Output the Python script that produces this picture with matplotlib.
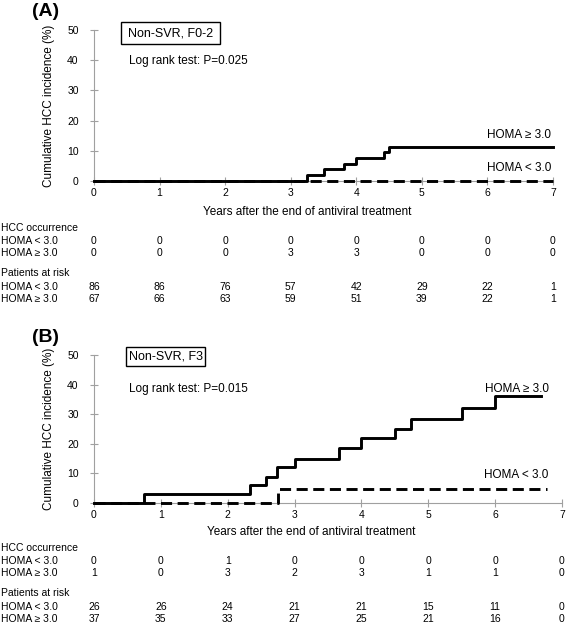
import matplotlib
matplotlib.use('Agg')
import matplotlib.pyplot as plt
from matplotlib.patches import Rectangle
from matplotlib.transforms import blended_transform_factory

plt.rcParams['font.family'] = ['Liberation Sans', 'DejaVu Sans']

# panel A: Non-SVR, F0-2
a_hi_t = [0, 3.25, 3.51, 3.82, 4.0, 4.42, 4.5, 7.0]
a_hi_y = [0, 2.0, 3.9, 5.75, 7.6, 9.5, 11.4, 11.4]
a_lo_t = [0, 7.0]
a_lo_y = [0, 0]

# panel B: Non-SVR, F3
b_hi_t = [0, 0.75, 2.33, 2.58, 2.73, 3.0, 3.67, 4.0, 4.5, 4.74, 5.5, 6.0, 6.69]
b_hi_y = [0, 2.9, 6.0, 8.9, 12.0, 15.0, 18.6, 22.0, 25.1, 28.3, 32.2, 36.2, 36.2]
b_lo_t = [0, 2.75, 6.77]
b_lo_y = [0, 4.8, 4.8]

years = list(range(8))
row_names = ['HOMA < 3.0', 'HOMA \u2265 3.0']

a_hcc_lo = [0, 0, 0, 0, 0, 0, 0, 0]
a_hcc_hi = [0, 0, 0, 3, 3, 0, 0, 0]
a_risk_lo = [86, 86, 76, 57, 42, 29, 22, 1]
a_risk_hi = [67, 66, 63, 59, 51, 39, 22, 1]

b_hcc_lo = [0, 0, 1, 0, 0, 0, 0, 0]
b_hcc_hi = [1, 0, 3, 2, 3, 1, 1, 0]
b_risk_lo = [26, 26, 24, 21, 21, 15, 11, 0]
b_risk_hi = [37, 35, 33, 27, 25, 21, 16, 0]

W, H = 566, 630
fig = plt.figure(figsize=(W / 100, H / 100), dpi=100)
FS = 7.5       # ticks and table
FS_TXT = 8.5   # labels inside the plot, axis titles
GRAY = '#a0a0a0'


def fy(py):
    return 1 - py / H


def draw_panel(ax, letter, box_txt, p_txt, p_y, box_xy, hi, lo, hi_lab_y, lo_lab_y, lab_x):
    ax.step(hi[0], hi[1], where='post', color='black', lw=2.1, clip_on=False, zorder=4)
    ax.step(lo[0], lo[1], where='post', color='black', lw=2.1, ls=(0, (3.8, 1.9)),
            clip_on=False, zorder=5)
    ax.set_xlim(0, 7)
    ax.set_ylim(0, 50)
    ax.set_xticks(years)
    ax.set_yticks(range(0, 51, 10))
    for s in ['top', 'right']:
        ax.spines[s].set_visible(False)
    for s in ['left', 'bottom']:
        ax.spines[s].set_color(GRAY)
        ax.spines[s].set_linewidth(0.8)
    ax.tick_params(axis='both', direction='inout', length=6, width=0.8,
                   color=GRAY, labelsize=FS)
    ax.tick_params(axis='y', pad=8)
    ax.tick_params(axis='x', pad=2)
    ax.set_ylabel('Cumulative HCC incidence (%)', fontsize=FS_TXT, va='center')
    ax.yaxis.set_label_coords(-45 / (ax.get_position().width * W), 0.5)

    # label box and log-rank text
    x0, y0, x1, y1 = box_xy
    ax.add_patch(Rectangle((x0, y0), x1 - x0, y1 - y0, fill=False, ec='black',
                           lw=1.0, clip_on=False))
    ax.text((x0 + x1) / 2, (y0 + y1) / 2, box_txt, ha='center', va='center',
            fontsize=9)
    ax.text(0.53, p_y, p_txt, ha='left', va='center', fontsize=FS_TXT)
    ax.text(lab_x, hi_lab_y, 'HOMA \u2265 3.0', ha='right', va='center', fontsize=FS_TXT)
    ax.text(lab_x, lo_lab_y, 'HOMA < 3.0', ha='right', va='center', fontsize=FS_TXT)

    pos = ax.get_position()
    fig.text(pos.x0 - 62 / W, pos.y1 + 18 / H, letter, fontsize=14,
             fontweight='bold', ha='left', va='center')


def draw_table(ax, top_px, hcc_lo, hcc_hi, risk_lo, risk_hi):
    tr = blended_transform_factory(ax.transData, fig.transFigure)
    ax.text(3.25, fy(top_px), 'Years after the end of antiviral treatment',
            transform=tr, ha='center', va='center', fontsize=FS_TXT)
    rows = [
        (top_px + 16, 'HCC occurrence', None),
        (top_px + 29, row_names[0], hcc_lo),
        (top_px + 41, row_names[1], hcc_hi),
        (top_px + 61, 'Patients at risk', None),
        (top_px + 75, row_names[0], risk_lo),
        (top_px + 87, row_names[1], risk_hi),
    ]
    for py, name, vals in rows:
        fig.text(1 / W, fy(py), name, ha='left', va='center', fontsize=FS)
        if vals is None:
            continue
        for t, v in zip(years, vals):
            ax.text(t, fy(py), str(v), transform=tr, ha='center', va='center',
                    fontsize=FS)


axA = fig.add_axes([94 / W, fy(181), 459 / W, (181 - 30) / H])
axB = fig.add_axes([94 / W, fy(503), 468 / W, (503 - 355) / H])

draw_panel(axA, '(A)', 'Non-SVR, F0-2', 'Log rank test: P=0.025', 39.8,
           (0.41, 45.4, 1.92, 52.5), (a_hi_t, a_hi_y), (a_lo_t, a_lo_y),
           15.2, 4.4, 6.97)
draw_panel(axB, '(B)', 'Non-SVR, F3', 'Log rank test: P=0.015', 38.5,
           (0.48, 46.4, 1.66, 52.6), (b_hi_t, b_hi_y), (b_lo_t, b_lo_y),
           38.4, 9.4, 6.8)

draw_table(axA, 212, a_hcc_lo, a_hcc_hi, a_risk_lo, a_risk_hi)
draw_table(axB, 532, b_hcc_lo, b_hcc_hi, b_risk_lo, b_risk_hi)

fig.savefig('out.png', dpi=100)
